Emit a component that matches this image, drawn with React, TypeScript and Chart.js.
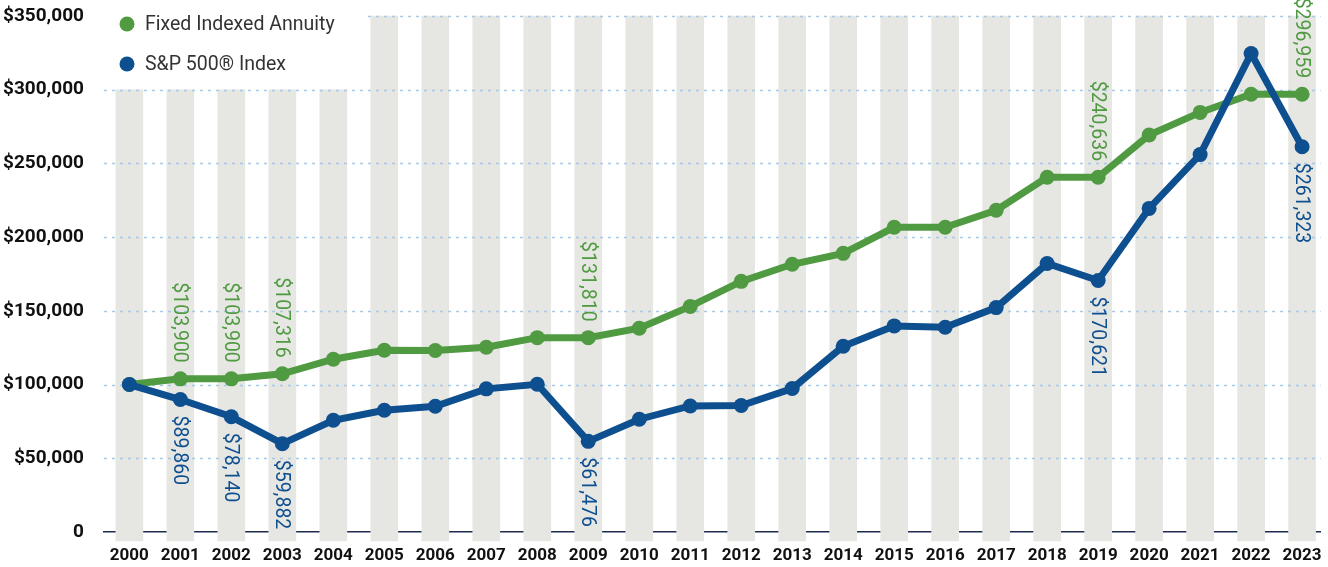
import React, { useEffect, useRef } from "react";
import { Chart, registerables } from "chart.js";

Chart.register(...registerables);

const years = ["2000","2001","2002","2003","2004","2005","2006","2007","2008","2009","2010","2011","2012","2013","2014","2015","2016","2017","2018","2019","2020","2021","2022","2023"];
const fiaValues = [100000,103900,103900,107316,117200,123300,123100,125300,131810,131810,138200,153000,170000,181600,189000,206700,206700,218200,240636,240636,269300,284600,296959,296959];
const spValues = [100000,89860,78140,59882,75800,82600,85300,97100,100200,61476,76500,85500,85800,97300,126000,139800,138900,152200,182100,170621,219500,256000,324500,261323];
const barTops = [300000,300000,300000,300000,300000,350000,350000,350000,350000,350000,350000,350000,350000,350000,350000,350000,350000,350000,350000,350000,350000,350000,350000,350000];
const barBase = -6000;
const labelledYears = ["2001","2002","2003","2009","2019","2023"];
const yTicks = [0,50000,100000,150000,200000,250000,300000,350000];
const seriesNames = ["Fixed Indexed Annuity", "S&P 500\u00AE Index"];

const GREEN = "#509A42";
const BLUE = "#0E4F8F";
const BAR = "#E6E6E2";
const GRID = "#A9C8E6";
const AXIS = "#1F2A4F";
const FONT = "Roboto, 'Liberation Sans', sans-serif";

const fmt = (v: number) => (v === 0 ? "0" : "$" + v.toLocaleString("en-US"));

export default function App() {
  const ref = useRef<HTMLCanvasElement | null>(null);

  useEffect(() => {
    if (!ref.current) return;

    const gridPlugin = {
      id: "customGrid",
      afterDatasetDraw(chart: any, args: any) {
        if (args.meta.type !== "bar") return;
        const { ctx, chartArea } = chart;
        const y = chart.scales.y;
        ctx.save();
        ctx.strokeStyle = GRID;
        ctx.lineWidth = 1.5;
        ctx.setLineDash([3, 5]);
        for (const t of y.ticks) {
          if (t.value === 0) continue;
          const py = Math.round(y.getPixelForValue(t.value)) + 0.5;
          ctx.beginPath();
          ctx.moveTo(chartArea.left, py);
          ctx.lineTo(chartArea.right, py);
          ctx.stroke();
        }
        ctx.setLineDash([]);
        ctx.fillStyle = "#ffffff";
        ctx.fillRect(chartArea.left, 0, 262, 80);
        ctx.restore();
      },
    };

    const labelPlugin = {
      id: "labelsAndLegend",
      afterDraw(chart: any) {
        const { ctx, chartArea } = chart;
        ctx.save();
        const items = [
          { name: seriesNames[0], color: GREEN, y: 24 },
          { name: seriesNames[1], color: BLUE, y: 64 },
        ];
        ctx.font = `19.5px ${FONT}`;
        ctx.textBaseline = "middle";
        ctx.textAlign = "left";
        for (const it of items) {
          ctx.fillStyle = it.color;
          ctx.beginPath();
          ctx.arc(chartArea.left + 23, it.y, 7.5, 0, Math.PI * 2);
          ctx.fill();
          ctx.fillStyle = "#333333";
          ctx.fillText(it.name, chartArea.left + 41, it.y + 1);
        }
        const drawLabels = (dsIndex: number, values: number[], color: string, above: boolean) => {
          const meta = chart.getDatasetMeta(dsIndex);
          ctx.font = `19.5px ${FONT}`;
          ctx.fillStyle = color;
          ctx.textBaseline = "middle";
          years.forEach((yr, i) => {
            if (!labelledYears.includes(yr)) return;
            const pt = meta.data[i];
            ctx.save();
            ctx.translate(pt.x, pt.y);
            ctx.rotate(Math.PI / 2);
            ctx.textAlign = above ? "right" : "left";
            ctx.fillText(fmt(values[i]), above ? -16 : 16, 1);
            ctx.restore();
          });
        };
        drawLabels(1, fiaValues, GREEN, true);
        drawLabels(2, spValues, BLUE, false);
        ctx.restore();
      },
    };

    const chart = new Chart(ref.current, {
      type: "bar",
      data: {
        datasets: [
          {
            type: "bar",
            data: years.map((_, i) => ({ x: i, y: [barBase, barTops[i]] })) as any,
            backgroundColor: BAR,
            barThickness: 27,
            clip: false as any,
            order: 3,
          },
          {
            type: "line",
            data: years.map((_, i) => ({ x: i, y: fiaValues[i] })),
            borderColor: GREEN,
            backgroundColor: GREEN,
            borderWidth: 7,
            pointRadius: 7.5,
            pointBorderWidth: 0,
            pointBackgroundColor: GREEN,
            tension: 0,
            order: 2,
          },
          {
            type: "line",
            data: years.map((_, i) => ({ x: i, y: spValues[i] })),
            borderColor: BLUE,
            backgroundColor: BLUE,
            borderWidth: 7,
            pointRadius: 7.5,
            pointBorderWidth: 0,
            pointBackgroundColor: BLUE,
            tension: 0,
            order: 1,
          },
        ] as any,
      },
      options: {
        animation: false,
        responsive: false,
        maintainAspectRatio: false,
        layout: { padding: { top: 16, right: 1, left: 0, bottom: 0 } },
        plugins: { legend: { display: false }, tooltip: { enabled: false } },
        scales: {
          x: {
            type: "linear",
            offset: false,
            min: -0.4975,
            max: 23.361,
            grid: { display: false, drawTicks: false, offset: false },
            border: { display: true, color: AXIS, width: 1.5 },
            afterBuildTicks: (s: any) => {
              s.ticks = years.map((_, i) => ({ value: i }));
            },
            afterFit: (s: any) => {
              s.height = 35;
              s.paddingLeft = 0;
              s.paddingRight = 0;
            },
            ticks: {
              padding: 14,
              color: "#111111",
              font: { family: FONT, size: 17, weight: "bold" },
              maxRotation: 0,
              autoSkip: false,
              callback: (v: any) => years[Math.round(v)] ?? "",
            },
          },
          y: {
            min: 0,
            max: 350000,
            grid: { display: false, drawTicks: false },
            border: { display: false },
            afterBuildTicks: (s: any) => {
              s.ticks = yTicks.map((v) => ({ value: v }));
            },
            afterFit: (s: any) => {
              s.width = 104;
              s.paddingTop = 0;
              s.paddingBottom = 0;
            },
            ticks: {
              padding: 20,
              color: "#111111",
              font: { family: FONT, size: 19, weight: "bold" },
              callback: (v: any) => fmt(Number(v)),
            },
          },
        },
      } as any,
      plugins: [gridPlugin, labelPlugin],
    });
    return () => chart.destroy();
  }, []);

  return (
    <div style={{ position: "absolute", left: 0, top: 0, width: 1328, height: 567, background: "#fff" }}>
      <canvas ref={ref} width={1328} height={567} style={{ display: "block", width: 1328, height: 567 }} />
    </div>
  );
}
